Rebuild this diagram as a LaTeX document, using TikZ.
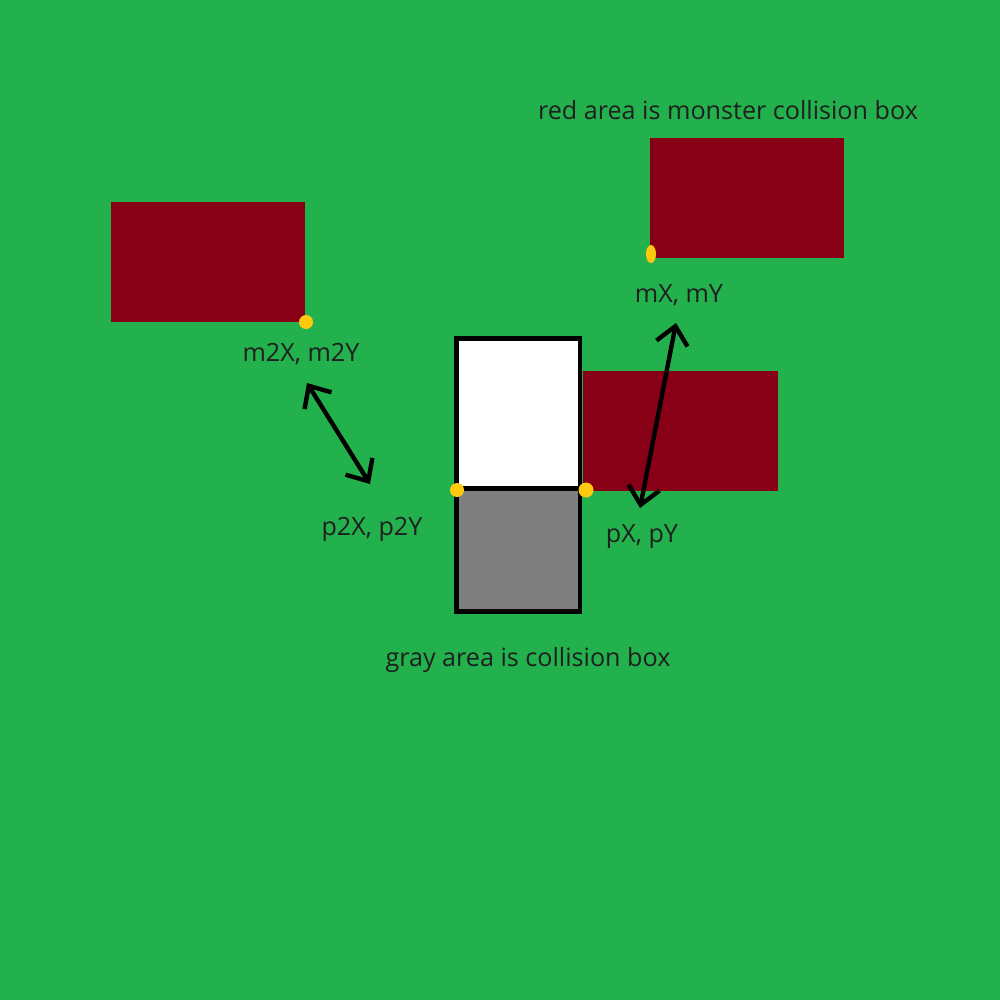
\documentclass[tikz,border=0pt]{standalone}
\usepackage{fontspec}
\setmainfont{Open Sans}
\usetikzlibrary{arrows.meta,positioning,calc}

\definecolor{grass}{HTML}{22B14C}
\definecolor{monster}{HTML}{880015}
\definecolor{hitgray}{HTML}{7F7F7F}
\definecolor{marker}{HTML}{FFC90E}

\begin{document}
\begin{tikzpicture}[x=0.01cm,y=-0.01cm,
    lbl/.style={text=black!88, font=\fontsize{7.15}{8}\selectfont, inner sep=0pt},
    hitbox/.style={fill=monster},
    spot/.style={fill=marker},
    reach/.style={line width=1.25pt, line cap=round,
        {Straight Barb[length=5pt,width=9pt]}-{Straight Barb[length=5pt,width=9pt]}}]

                % Background
                \fill[grass] (0,0) rectangle (1000,1000);
                \useasboundingbox (0,0) rectangle (1000,1000);

                % Monster collision boxes
                \fill[hitbox] (111,202) rectangle (305,322);
                \fill[hitbox] (650,138) rectangle (844,258);
                \fill[hitbox] (583,371) rectangle (778,491);

                % Player: white top, gray collision box below
                \fill[white] (456,338) rectangle (580,488);
                \fill[hitgray] (456,488) rectangle (580,611);
                \draw[line width=1.35pt] (456.5,338.5) rectangle (580,611.5);
                \draw[line width=1.35pt] (456.5,488.5) -- (580,488.5);

                % Corner markers
                \fill[spot] (306,322) circle (7);
                \fill[spot] (651,254) ellipse (5 and 9);
                \fill[spot] (457,490) circle (7);
                \fill[spot] (586,490) circle (7.5);

                % Labels
                \node[lbl] (note1) at (728,110) {red area is monster collision box};
                \node[lbl] (m2) at (301,354) {m2X, m2Y};
                \node[lbl] (p2) at (372,529) {p2X, p2Y};
                \node[lbl] (m1) at (679,295) {mX, mY};
                \node[lbl] (p1) at (642,537) {pX, pY};
                \node[lbl] (note2) at (528,660) {gray area is collision box};

                % Distance arrows
                \coordinate (a1) at (307,383);
                \coordinate (b1) at (370,484);
                \coordinate (a2) at (676,323);
                \coordinate (b2) at (640,508);
                \draw[reach] (a1) -- (b1);
                \draw[reach] (a2) -- (b2);
            \end{tikzpicture}
\end{document}
